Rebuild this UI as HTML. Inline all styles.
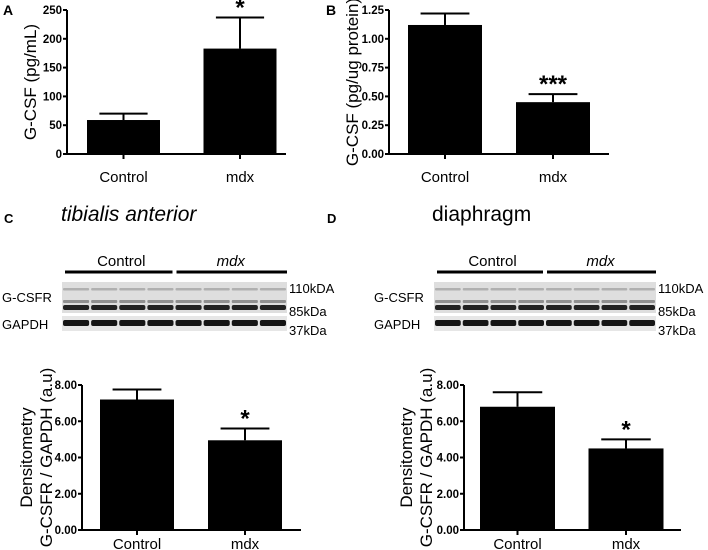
<!DOCTYPE html>
<html><head><meta charset="utf-8">
<style>
html,body{margin:0;padding:0;background:#fff;}
svg{display:block;font-family:"Liberation Sans",Arial,sans-serif;}
</style></head>
<body>
<svg id="fig" width="708" height="550" viewBox="0 0 708 550" xmlns="http://www.w3.org/2000/svg">
<g id="static">
  <text x="3" y="15" font-size="14" font-weight="bold">A</text>
  <text x="326" y="15" font-size="14" font-weight="bold">B</text>
  <text x="4" y="223" font-size="13" font-weight="bold">C</text>
  <text x="327" y="223" font-size="13" font-weight="bold">D</text>
  <text x="61" y="221" font-size="21" font-style="italic">tibialis anterior</text>
  <text x="432" y="221" font-size="21">diaphragm</text>
</g>
<g id="blots"></g>
<g id="charts"></g>
</svg>
<script>
// Panel A data
const catsA = ["Control", "mdx"];
const valsA = [59, 183];
const errA = [70, 237];
const ticksA = ["0", "50", "100", "150", "200", "250"];
const sigA = ["", "*"];
// Panel B data
const catsB = ["Control", "mdx"];
const valsB = [1.12, 0.45];
const errB = [1.22, 0.52];
const ticksB = ["0.00", "0.25", "0.50", "0.75", "1.00", "1.25"];
const sigB = ["", "***"];
// Panel C data
const catsC = ["Control", "mdx"];
const valsC = [7.2, 4.95];
const errC = [7.75, 5.6];
const ticksC = ["0.00", "2.00", "4.00", "6.00", "8.00"];
const sigC = ["", "*"];
// Panel D data
const catsD = ["Control", "mdx"];
const valsD = [6.8, 4.5];
const errD = [7.6, 5.0];
const ticksD = ["0.00", "2.00", "4.00", "6.00", "8.00"];
const sigD = ["", "*"];

const NS = "http://www.w3.org/2000/svg";
function mk(tag, attrs, parent, txt){
  const e = document.createElementNS(NS, tag);
  for (const k in attrs) e.setAttribute(k, attrs[k]);
  if (txt !== undefined) e.textContent = txt;
  parent.appendChild(e);
  return e;
}

function chart(id, cfg, cats, vals, errs, ticks, sigs){
  const root = document.getElementById("charts");
  const g = mk("g", {}, root);
  
  
  const tmax = parseFloat(ticks[ticks.length-1]);
  const y = v => cfg.y0 - (v / tmax) * (cfg.y0 - cfg.yTop);
  const barW = cfg.barW;
  const cx = i => cfg.cx[i];
  cats.forEach((c, i) => {
    const yt = y(vals[i]);
    const ye = y(errs[i]);
    const eb = mk("line", {x1: cx(i), x2: cx(i), y1: ye, y2: yt, stroke: "#000", "stroke-width": 2}, g);
    
    
    const cap = mk("line", {x1: cx(i) - barW*0.33, x2: cx(i) + barW*0.33, y1: ye, y2: ye, stroke: "#000", "stroke-width": 2}, g);
    
    
    const r = mk("rect", {x: cx(i) - barW/2, y: yt, width: barW, height: cfg.y0 - yt, fill: "#000"}, g);
    
    
    if (sigs[i]) {
      const s = mk("text", {x: cx(i), y: ye + 12, "font-size": 24, "text-anchor": "middle", "font-weight": "bold", dy: "-14"}, g, sigs[i]);
      
      
    }
    const tk = mk("line", {x1: cx(i), x2: cx(i), y1: cfg.y0, y2: cfg.y0 + 5, stroke: "#000", "stroke-width": 2}, g);
    
    
    const lb = mk("text", {x: cx(i), y: cfg.y0 + cfg.lbOff, "font-size": 15, "text-anchor": "middle"}, g, c);
    
    
  });
  const ya = mk("line", {x1: cfg.ax, x2: cfg.ax, y1: cfg.yTop, y2: cfg.y0 + 1, stroke: "#000", "stroke-width": 2}, g);
  
  
  const xa = mk("line", {x1: cfg.ax - 1, x2: cfg.xEnd, y1: cfg.y0, y2: cfg.y0, stroke: "#000", "stroke-width": 2}, g);
  
  
  ticks.forEach(t => {
    const yy = y(parseFloat(t));
    const tl = mk("line", {x1: cfg.ax - 4, x2: cfg.ax, y1: yy, y2: yy, stroke: "#000", "stroke-width": 2}, g);
    
    
    const tt = mk("text", {x: cfg.ax - 5, y: yy + 4, "font-size": 11.5, "font-weight": "bold", "text-anchor": "end"}, g, t);
    
    
  });
  cfg.titles.forEach(tl => {
    const yc = (cfg.y0 + cfg.yTop) / 2;
    const tx = mk("text", {x: tl.x, y: yc, "font-size": 17, "text-anchor": "middle", transform: "rotate(-90 " + tl.x + " " + yc + ")"}, g, tl.t);
    
    
  });
}

chart("panel-a", {ax: 67, y0: 154, yTop: 10, xEnd: 286, barW: 73, lbOff: 28, cx: [123.5, 240], titles: [{x: 36, t: "G-CSF (pg/mL)"}]}, catsA, valsA, errA, ticksA, sigA);
chart("panel-b", {ax: 389, y0: 154, yTop: 10, xEnd: 609, barW: 74, lbOff: 28, cx: [445, 553], titles: [{x: 358, t: "G-CSF (pg/ug protein)"}]}, catsB, valsB, errB, ticksB, sigB);
chart("panel-c", {ax: 82, y0: 530, yTop: 385, xEnd: 301, barW: 74, lbOff: 19, cx: [137, 245], titles: [{x: 32, t: "Densitometry"}, {x: 52, t: "G-CSFR / GAPDH (a.u)"}]}, catsC, valsC, errC, ticksC, sigC);
chart("panel-d", {ax: 464, y0: 530, yTop: 385, xEnd: 681, barW: 75, lbOff: 19, cx: [517.5, 626], titles: [{x: 412, t: "Densitometry"}, {x: 432, t: "G-CSFR / GAPDH (a.u)"}]}, catsD, valsD, errD, ticksD, sigD);

function blot(id, x0, x1, labelX){
  const root = document.getElementById("blots");
  const g = mk("g", {}, root);
  
  
  const mid = (x0 + x1) / 2;
  const l1 = mk("line", {x1: x0 + 3, x2: mid - 2, y1: 272, y2: 272, stroke: "#000", "stroke-width": 3}, g);
   
  const l2 = mk("line", {x1: mid + 2, x2: x1, y1: 272, y2: 272, stroke: "#000", "stroke-width": 3}, g);
   
  const t1 = mk("text", {x: (x0 + mid) / 2 + 3, y: 266, "font-size": 15, "text-anchor": "middle"}, g, "Control");
   
  const t2 = mk("text", {x: (mid + x1) / 2, y: 266, "font-size": 15, "font-style": "italic", "text-anchor": "middle"}, g, "mdx");
   
  const bg = mk("rect", {x: x0, y: 282, width: x1 - x0, height: 31, fill: "#dedede"}, g);
   
  const bg2 = mk("rect", {x: x0, y: 316, width: x1 - x0, height: 15, fill: "#e6e6e6"}, g);
   
  const lw = (x1 - x0) / 8;
  for (let i = 0; i < 8; i++) {
    const lx = x0 + i * lw + 1;
    mk("rect", {x: lx, y: 288, width: lw - 2, height: 2.5, fill: "#b0b0b0", rx: 1}, g);
    mk("rect", {x: lx, y: 300, width: lw - 2, height: 3, fill: "#909090", rx: 1}, g);
    mk("rect", {x: lx, y: 305, width: lw - 2, height: 5, fill: "#222", rx: 2}, g);
    mk("rect", {x: lx, y: 320, width: lw - 2, height: 6, fill: "#151515", rx: 2}, g);
  }
  const k1 = mk("text", {x: labelX, y: 293, "font-size": 13}, g, "110kDA");
   
  const k2 = mk("text", {x: labelX, y: 316, "font-size": 13}, g, "85kDa");
   
  const k3 = mk("text", {x: labelX, y: 335, "font-size": 13}, g, "37kDa");
   
  const r1 = mk("text", {x: x0 - 60, y: 302, "font-size": 13}, g, "G-CSFR");
   
  const r2 = mk("text", {x: x0 - 60, y: 329, "font-size": 13}, g, "GAPDH");
   
}
blot("panel-c", 62, 287, 289);
blot("panel-d", 434, 656, 658);
</script>
</body></html>
